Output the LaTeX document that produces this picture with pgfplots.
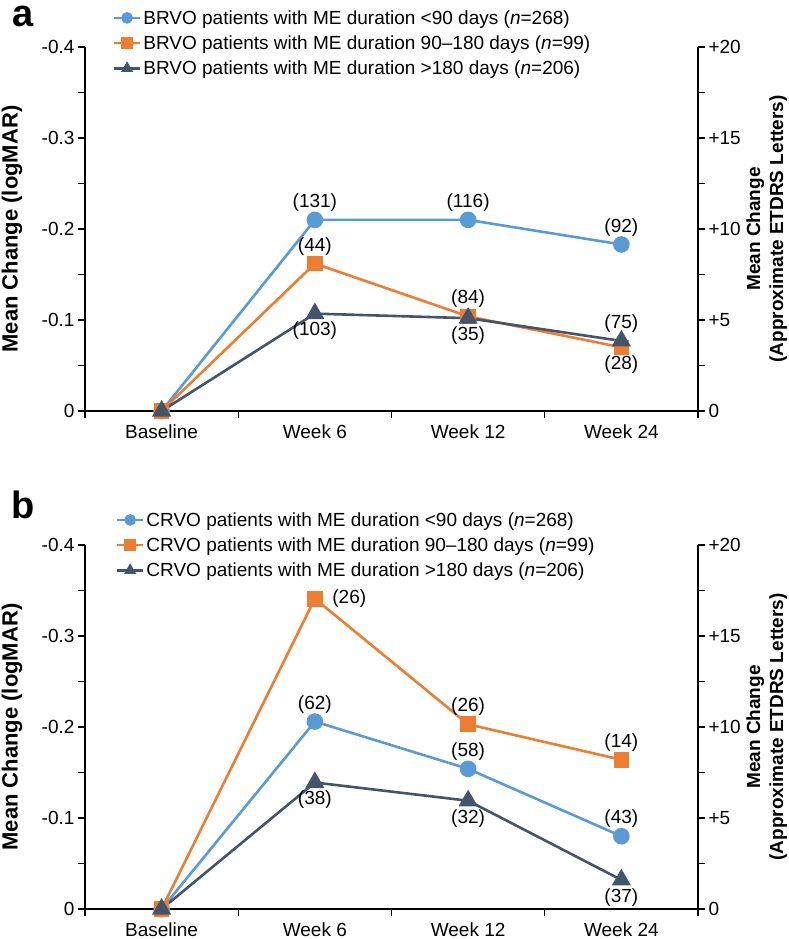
\documentclass[border=0pt]{standalone}
\usepackage{pgfplots}
\pgfplotsset{compat=1.18}
\usepackage{fontspec}
\setmainfont{Liberation Sans}

\definecolor{cblue}{HTML}{5B9BD5}
\definecolor{corange}{HTML}{ED7D31}
\definecolor{cdark}{HTML}{44546A}
\newcommand\tf{\fontsize{19}{23}\selectfont}

\pgfplotsset{
  base/.style={
    scale only axis, width=613pt, height=364pt,
    xmin=-0.5, xmax=3.5, clip=false,
    tick align=outside, major tick length=7pt, minor tick length=7pt,
    tick style={black, line width=1.2pt},
    axis line style={line width=1.2pt},
    tick label style={font=\tf},
    /pgf/number format/assume math mode=true,
  },
  left/.style={base,
    ymin=-0.4, ymax=0, y dir=reverse,
    axis x line*=bottom, axis y line*=left,
    xtick={0,1,2,3}, xticklabels={Baseline,Week 6,Week 12,Week 24},
    xticklabel style={yshift=-3pt},
    major x tick style={draw=none},
    minor xtick={-0.5,0.5,1.5,2.5,3.5},
    ytick={-0.4,-0.3,-0.2,-0.1,0}, yticklabels={-0.4,-0.3,-0.2,-0.1,0},
    minor ytick={-0.35,-0.25,-0.15,-0.05},
    ylabel={Mean Change (logMAR)},
    ylabel style={font=\fontsize{22}{26}\selectfont\bfseries,
      at={(axis description cs:-0.119,0.5)}, anchor=center},
    legend style={draw=none, fill=none, font=\tf, anchor=north west,
      row sep=6pt, inner sep=0pt},
    legend cell align=left,
    legend image code/.code={\draw[mark repeat=2,mark phase=2,##1,mark size=4.5pt]
      plot coordinates {(0pt,0pt) (13pt,0pt) (26pt,0pt)};},
  },
  right/.style={base,
    ymin=0, ymax=20,
    axis x line=none, axis y line*=right,
    ytick={0,5,10,15,20}, yticklabels={0,+5,+10,+15,+20},
    minor ytick={2.5,7.5,12.5,17.5},
    ylabel={Mean Change\\(Approximate ETDRS Letters)},
    ylabel style={font=\tf\bfseries, align=center,
      at={(axis description cs:1.112,0.5)}, anchor=center},
  },
  sb/.style={color=cblue, line width=2.6pt, mark=*, mark size=7pt},
  so/.style={color=corange, line width=2.6pt, mark=square*, mark size=6.5pt},
  sd/.style={color=cdark, line width=2.6pt, mark=triangle*, mark size=8.5pt},
  lab/.style={draw=none, mark=none, forget plot, nodes near coords,
    point meta=explicit symbolic,
    every node near coord/.append style={font=\tf, text=black}},
  up/.style={lab, nodes near coords align={above},
    every node near coord/.append style={yshift=5pt}},
  dn/.style={lab, nodes near coords align={below},
    every node near coord/.append style={yshift=-5pt}},
  rt/.style={lab, nodes near coords align={right},
    every node near coord/.append style={xshift=14pt}},
}

\begin{document}
\begin{tikzpicture}
\path[use as bounding box] (-85pt,-528pt) rectangle (703pt,411pt);

% panel a
\begin{axis}[left, legend style={at={(axis description cs:0.045,1.107)}}]
\addplot[sb] coordinates {(0,0) (1,-0.210) (2,-0.210) (3,-0.183)};
\addlegendentry{BRVO patients with ME duration <90 days (\textit{n}=268)}
\addplot[so] coordinates {(0,0) (1,-0.162) (2,-0.104) (3,-0.070)};
\addlegendentry{BRVO patients with ME duration 90--180 days (\textit{n}=99)}
\addplot[sd] coordinates {(0,0) (1,-0.107) (2,-0.102) (3,-0.077)};
\addlegendentry{BRVO patients with ME duration >180 days (\textit{n}=206)}
\addplot[up] coordinates {(1,-0.210) [(131)] (2,-0.210) [(116)] (3,-0.183) [(92)]
  (1,-0.162) [(44)] (2,-0.104) [(84)] (3,-0.077) [(75)]};
\addplot[dn] coordinates {(1,-0.107) [(103)] (2,-0.102) [(35)] (3,-0.070) [(28)]};
\node[inner sep=0pt, font=\fontsize{38}{38}\selectfont\bfseries]
  at (axis description cs:-0.101,1.084) {a};
\end{axis}
\begin{axis}[right]
\addplot[draw=none] coordinates {(0,0)};
\end{axis}

% panel b
\begin{axis}[left, at={(0pt,-498pt)}, legend style={at={(axis description cs:0.05,1.096)}}]
\addplot[sb] coordinates {(0,0) (1,-0.206) (2,-0.154) (3,-0.080)};
\addlegendentry{CRVO patients with ME duration <90 days (\textit{n}=268)}
\addplot[so] coordinates {(0,0) (1,-0.341) (2,-0.203) (3,-0.164)};
\addlegendentry{CRVO patients with ME duration 90--180 days (\textit{n}=99)}
\addplot[sd] coordinates {(0,0) (1,-0.139) (2,-0.119) (3,-0.032)};
\addlegendentry{CRVO patients with ME duration >180 days (\textit{n}=206)}
\addplot[up] coordinates {(1,-0.206) [(62)] (2,-0.203) [(26)] (2,-0.154) [(58)]
  (3,-0.164) [(14)] (3,-0.080) [(43)]};
\addplot[rt] coordinates {(1,-0.341) [(26)]};
\addplot[dn] coordinates {(1,-0.139) [(38)] (2,-0.119) [(32)] (3,-0.032) [(37)]};
\node[inner sep=0pt, font=\fontsize{38}{38}\selectfont\bfseries]
  at (axis description cs:-0.101,1.11) {b};
\end{axis}
\begin{axis}[right, at={(0pt,-498pt)}]
\addplot[draw=none] coordinates {(0,0)};
\end{axis}
\end{tikzpicture}
\end{document}
